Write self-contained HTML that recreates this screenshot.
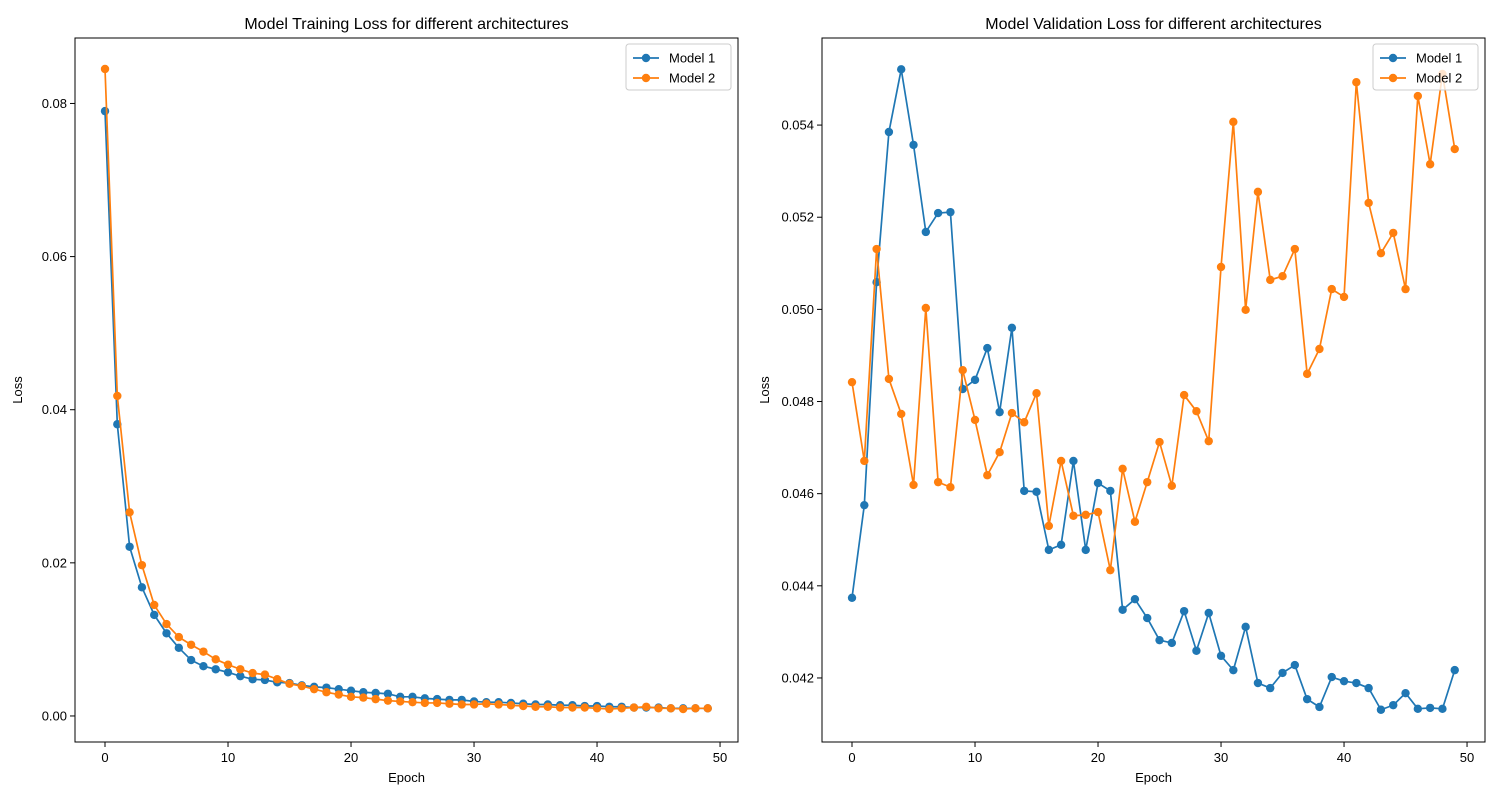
<!DOCTYPE html>
<html><head><meta charset="utf-8">
<style>
html,body{margin:0;padding:0;background:#fff;}
svg{display:block;font-family:"Liberation Sans","DejaVu Sans",sans-serif;}
</style></head>
<body>
<svg id="chart" width="1500" height="800" viewBox="0 0 1500 800" xmlns="http://www.w3.org/2000/svg"></svg>
<script>
const epochs = Array.from({length:50},(_,i)=>i);
const trainModel1 = [0.0790,0.0381,0.0221,0.0168,0.0132,0.0108,0.0089,0.0073,0.0065,0.0061,0.0057,0.0052,0.0048,0.0047,0.0044,0.0043,0.0040,0.0038,0.0037,0.0035,0.0033,0.0031,0.0030,0.0029,0.0025,0.0025,0.0023,0.0022,0.0021,0.0021,0.0019,0.0018,0.0018,0.0017,0.0016,0.0015,0.0015,0.0014,0.0014,0.0013,0.0013,0.0012,0.0012,0.0011,0.0011,0.0011,0.0010,0.0010,0.0010,0.0010];
const trainModel2 = [0.0845,0.0418,0.0266,0.0197,0.0145,0.0120,0.0103,0.0093,0.0084,0.0074,0.0067,0.0061,0.0056,0.0054,0.0048,0.0042,0.0039,0.0035,0.0031,0.0028,0.0025,0.0024,0.0022,0.0020,0.0019,0.0018,0.0017,0.0017,0.0016,0.0015,0.0015,0.0016,0.0015,0.0014,0.0013,0.0012,0.0012,0.0011,0.0011,0.0011,0.0010,0.0009,0.0010,0.0011,0.0012,0.0010,0.0010,0.0009,0.0010,0.0010];
const valModel1 = [0.04374,0.04575,0.05059,0.05385,0.05521,0.05357,0.05168,0.05209,0.05211,0.04827,0.04847,0.04916,0.04777,0.04960,0.04606,0.04604,0.04478,0.04489,0.04671,0.04478,0.04623,0.04606,0.04348,0.04371,0.04330,0.04282,0.04276,0.04345,0.04259,0.04341,0.04248,0.04217,0.04311,0.04189,0.04178,0.04211,0.04228,0.04154,0.04137,0.04202,0.04193,0.04189,0.04178,0.04131,0.04141,0.04167,0.04133,0.04135,0.04133,0.04217];
const valModel2 = [0.04842,0.04671,0.05131,0.04849,0.04773,0.04619,0.05003,0.04625,0.04614,0.04868,0.04760,0.04640,0.04690,0.04775,0.04755,0.04818,0.04530,0.04671,0.04552,0.04554,0.04560,0.04434,0.04654,0.04539,0.04625,0.04712,0.04617,0.04814,0.04779,0.04714,0.05092,0.05407,0.04999,0.05255,0.05064,0.05072,0.05131,0.04860,0.04914,0.05044,0.05027,0.05493,0.05231,0.05122,0.05166,0.05044,0.05463,0.05315,0.05511,0.05348];
const xTicks = [0,10,20,30,40,50];
const trainYTicks = [0,0.02,0.04,0.06,0.08];
const valYTicks = [0.042,0.044,0.046,0.048,0.050,0.052,0.054];
const seriesNames = ["Model 1","Model 2"];
const colors = ["#1f77b4","#ff7f0e"];

const NS="http://www.w3.org/2000/svg";
const svg=document.getElementById('chart');
function mk(tag,attrs,parent,text){const e=document.createElementNS(NS,tag);for(const k in attrs)e.setAttribute(k,attrs[k]);if(text!==undefined)e.textContent=text;(parent||svg).appendChild(e);return e;}

function panel(cfg){
  const g=mk('g',{});
  
  
  const {x0,x1,y0,y1,xmin,xmax,ymin,ymax}=cfg;
  const sx=v=>x0+(v-xmin)/(xmax-xmin)*(x1-x0);
  const sy=v=>y1-(v-ymin)/(ymax-ymin)*(y1-y0);
  xTicks.forEach(t=>{
    const X=sx(t);
    const l=mk('line',{x1:X,x2:X,y1:y1,y2:y1+5,stroke:'#000','stroke-width':1},g);
    
    
    const tx=mk('text',{x:X,y:y1+20,'font-size':13,'text-anchor':'middle',fill:'#000'},g,String(t));
    
    
  });
  cfg.yTicks.forEach(t=>{
    const Y=sy(t);
    const l=mk('line',{x1:x0-5,x2:x0,y1:Y,y2:Y,stroke:'#000','stroke-width':1},g);
    
    
    const tx=mk('text',{x:x0-8,y:Y+4.5,'font-size':13,'text-anchor':'end',fill:'#000'},g,t.toFixed(cfg.dec));
    
    
  });
  cfg.series.forEach((vals,si)=>{
    const pts=vals.map((v,i)=>sx(epochs[i]).toFixed(2)+','+sy(v).toFixed(2)).join(' ');
    const pl=mk('polyline',{points:pts,fill:'none',stroke:colors[si],'stroke-width':1.7,'stroke-linejoin':'round'},g);
    
    
    vals.forEach((v,i)=>{
      const c=mk('circle',{cx:sx(epochs[i]),cy:sy(v),r:4.2,fill:colors[si]},g);
      
      
    });
  });
  const frame=mk('rect',{x:x0,y:y0,width:x1-x0,height:y1-y0,fill:'none',stroke:'#000','stroke-width':1},g);
  
  
  const title=mk('text',{x:(x0+x1)/2,y:y0-9,'font-size':16,'text-anchor':'middle',fill:'#000'},g,cfg.title);
  
  
  const xl=mk('text',{x:(x0+x1)/2,y:782,'font-size':13,'text-anchor':'middle',fill:'#000'},g,'Epoch');
  
  
  const yx=x0-53, yy=(y0+y1)/2;
  const yl=mk('text',{x:yx,y:yy,'font-size':13,'text-anchor':'middle',fill:'#000',transform:`rotate(-90 ${yx} ${yy})`},g,'Loss');
  
  
  const lg=mk('g',{},g);
  
  
  const lx=x1-112, ly=y0+6;
  mk('rect',{x:lx,y:ly,width:105,height:46,rx:3,fill:'#fff','fill-opacity':0.8,stroke:'#ccc','stroke-width':1},lg);
  seriesNames.forEach((n,si)=>{
    const yy2=ly+14+si*20;
    const e=mk('g',{},lg);
    
    
    mk('line',{x1:lx+7,x2:lx+33,y1:yy2,y2:yy2,stroke:colors[si],'stroke-width':1.7},e);
    mk('circle',{cx:lx+20,cy:yy2,r:4.2,fill:colors[si]},e);
    mk('text',{x:lx+43,y:yy2+4.5,'font-size':13,fill:'#000'},e,n);
  });
}
panel({name:'training-loss-chart',title:'Model Training Loss for different architectures',x0:75,x1:738,y0:38,y1:742,xmin:-2.44,xmax:51.46,ymin:-0.0034,ymax:0.08855,yTicks:trainYTicks,dec:2,series:[trainModel1,trainModel2]});
panel({name:'validation-loss-chart',title:'Model Validation Loss for different architectures',x0:822,x1:1485,y0:38,y1:742,xmin:-2.44,xmax:51.46,ymin:0.04061,ymax:0.05589,yTicks:valYTicks,dec:3,series:[valModel1,valModel2]});
</script>
</body></html>
